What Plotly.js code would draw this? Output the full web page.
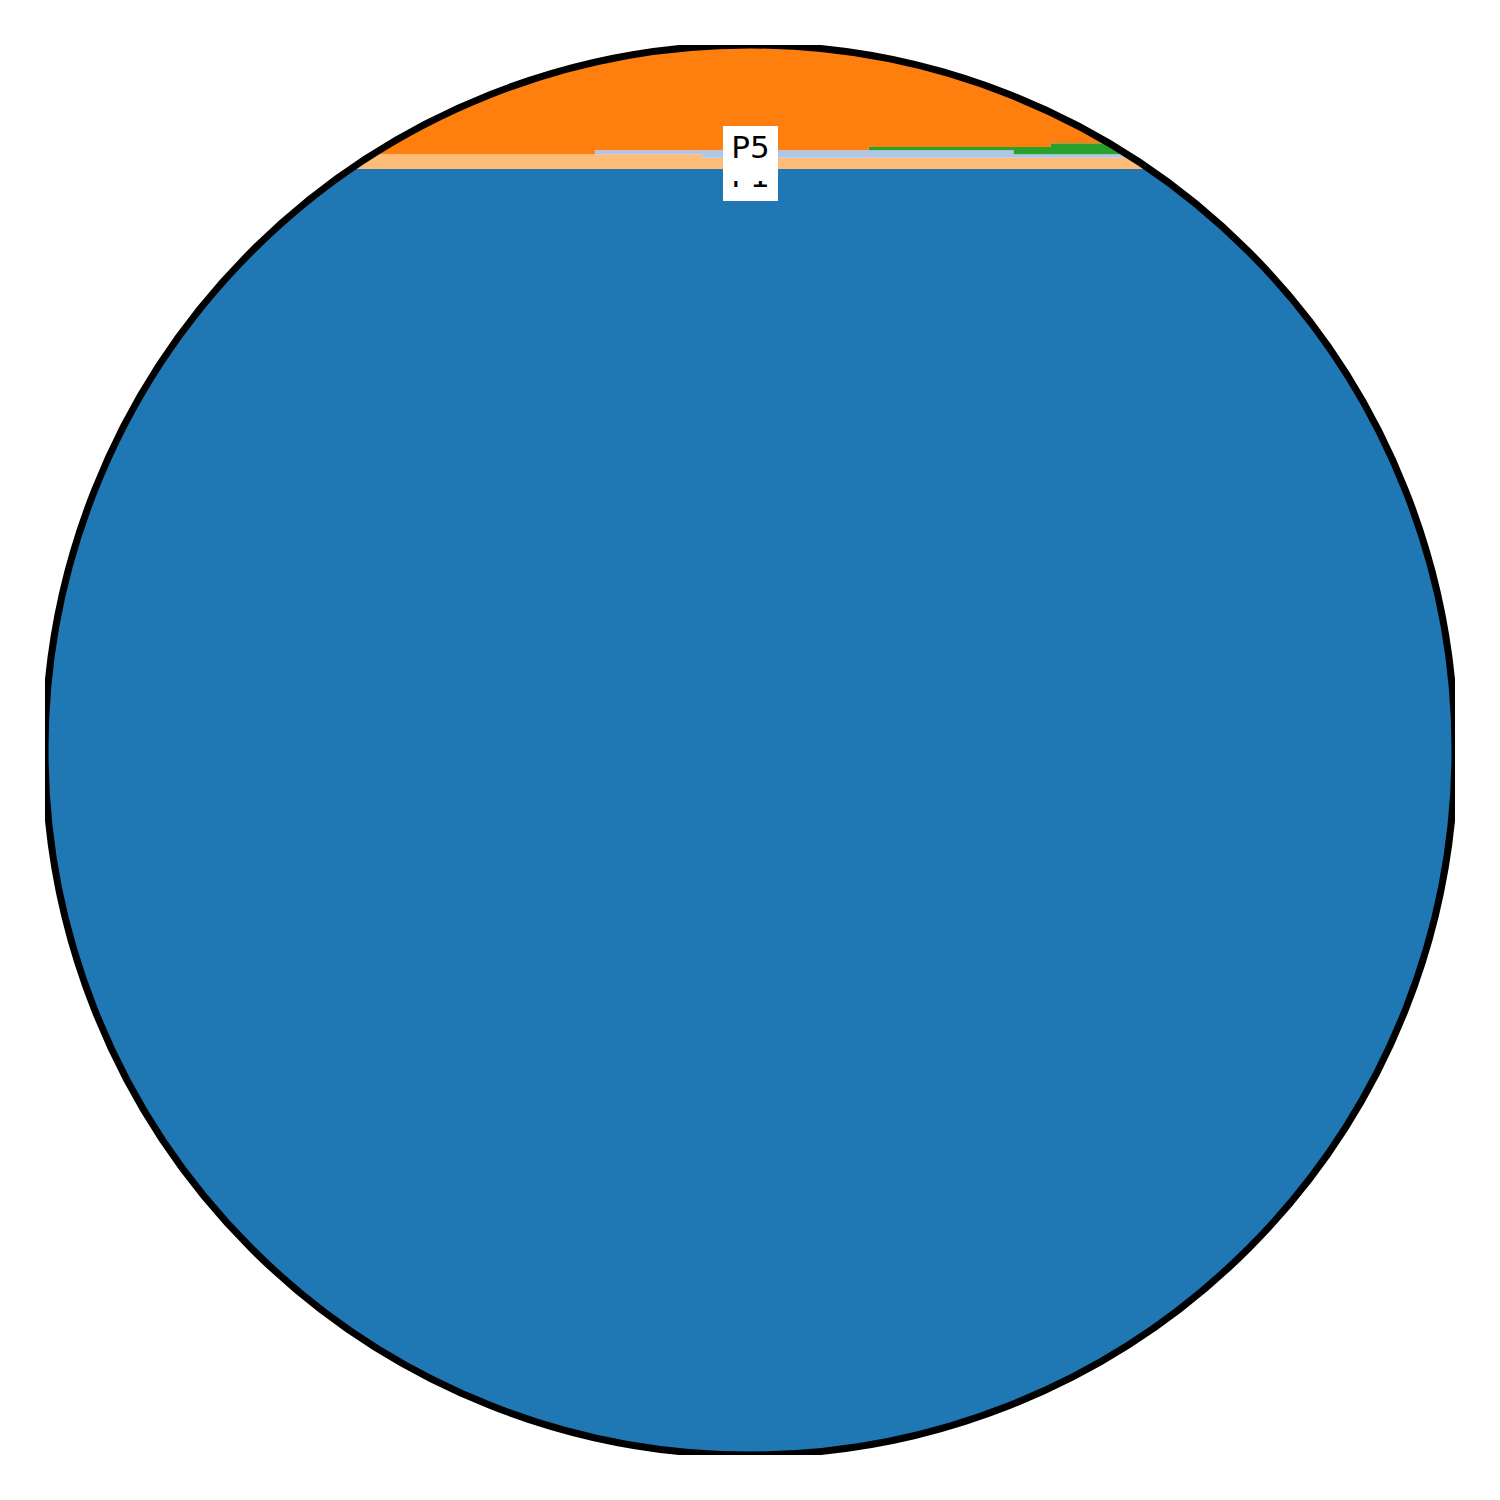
<!DOCTYPE html>
<html>
<head>
<meta charset="utf-8">
<script src="https://cdn.plot.ly/plotly-3.0.1.min.js"></script>
<style>html,body{margin:0;padding:0;background:#fff;}</style>
</head>
<body>
<div id="chart" style="width:1500px;height:1500px;"></div>
<script>
// Step positions (x) and layer thicknesses per step (stacked bottom to top)
const xSteps = [0, 39.0, 46.6, 58.4, 68.7, 71.3, 100];
const seriesNames = ["P1", "P2", "P3", "P4", "P5"];
const p1Values = [91.2, 91.2, 91.2, 91.2, 91.2, 91.2, 91.2];
const p2Values = [1.06, 1.06, 0.80, 0.80, 0.80, 0.80, 0.80];
const p3Values = [0.00, 0.28, 0.54, 0.54, 0.26, 0.26, 0.26];
const p4Values = [0.00, 0.00, 0.00, 0.22, 0.50, 0.78, 0.78];
const p5Values = [7.74, 7.46, 7.46, 7.24, 7.24, 6.96, 6.96];
const seriesColors = ["#1f77b4", "#ffbb78", "#aec7e8", "#2ca02c", "#ff7f0e"];
const labelTexts = ["P1", "P5"];
const labelY = [90.89, 92.30];
const labelVAlign = ["bottom", "top"];
const labelPad = [7, 3];

const allValues = [p1Values, p2Values, p3Values, p4Values, p5Values];
const traces = allValues.map((vals, i) => ({
  type: "scatter",
  mode: "lines",
  x: xSteps,
  y: vals,
  name: seriesNames[i],
  stackgroup: "one",
  line: {shape: "hv", width: 0, color: seriesColors[i]},
  fillcolor: seriesColors[i],
  hoverinfo: "skip",
  showlegend: false
}));

// Circle (center 50,50 ; radius in data units)
const cx = 50, cy = 50, r = 50;
const k = 0.5522847 * r;
const circlePath =
  `M ${cx + r} ${cy} ` +
  `C ${cx + r} ${cy + k} ${cx + k} ${cy + r} ${cx} ${cy + r} ` +
  `C ${cx - k} ${cy + r} ${cx - r} ${cy + k} ${cx - r} ${cy} ` +
  `C ${cx - r} ${cy - k} ${cx - k} ${cy - r} ${cx} ${cy - r} ` +
  `C ${cx + k} ${cy - r} ${cx + r} ${cy - k} ${cx + r} ${cy} Z`;
const maskPath = `M -20 -20 L 120 -20 L 120 120 L -20 120 Z ` + circlePath;

const layout = {
  width: 1500,
  height: 1500,
  margin: {l: 45, r: 45, t: 45, b: 45, pad: 0},
  paper_bgcolor: "#ffffff",
  plot_bgcolor: "#ffffff",
  showlegend: false,
  xaxis: {range: [0, 100], visible: false, showgrid: false, zeroline: false, fixedrange: true},
  yaxis: {range: [0, 100], visible: false, showgrid: false, zeroline: false, fixedrange: true},
  shapes: [
    {type: "path", xref: "x", yref: "y", path: maskPath, fillrule: "evenodd",
     fillcolor: "#ffffff", line: {width: 0}, layer: "above"},
    {type: "circle", xref: "x", yref: "y", x0: cx - r, x1: cx + r, y0: cy - r, y1: cy + r,
     line: {color: "#000000", width: 7}, fillcolor: "rgba(0,0,0,0)", layer: "above"}
  ],
  annotations: labelTexts.map((t, i) => ({
    x: 50, y: labelY[i], xref: "x", yref: "y",
    text: t, showarrow: false,
    font: {family: "DejaVu Sans", size: 31, color: "#000000"},
    bgcolor: "#ffffff", borderpad: labelPad[i], borderwidth: 0,
    width: 55 - 2 * labelPad[i], height: 55 - 2 * labelPad[i], valign: labelVAlign[i],
    align: "center",
    xanchor: "center", yanchor: "middle"
  }))
};

Plotly.newPlot("chart", traces, layout, {displayModeBar: false, staticPlot: true});
</script>
</body>
</html>
